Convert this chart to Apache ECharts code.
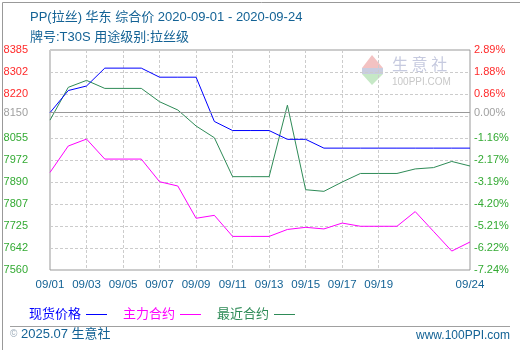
<!DOCTYPE html>
<html>
<head>
<meta charset="utf-8">
<script src="https://cdn.jsdelivr.net/npm/echarts@6/dist/echarts.min.js"></script>
<style>
  html, body { margin: 0; padding: 0; background: #fff; }
  #chart { width: 520px; height: 350px; }
</style>
</head>
<body>
<div id="chart"></div>
<script>
// Calendar days shown on the x axis
const dates = ['09/01','09/02','09/03','09/04','09/05','09/06','09/07','09/08','09/09','09/10',
               '09/11','09/12','09/13','09/14','09/15','09/16','09/17','09/18','09/19','09/20',
               '09/21','09/22','09/23','09/24'];
// Days that carry a label and a vertical grid line
const labeledDays = ['09/01','09/03','09/05','09/07','09/09','09/11','09/13','09/15','09/17','09/19','09/24'];

// Prices (yuan/ton)
const spotPrice = [8150, 8233, 8250, 8317, 8317, 8317, 8283, 8283, 8283, 8117,
                   8083, 8083, 8083, 8050, 8050, 8017, 8017, 8017, 8017, 8017,
                   8017, 8017, 8017, 8017];
const mainContract = [7926, 8025, 8051, 7976, 7976, 7976, 7891, 7875, 7754, 7765,
                      7686, 7686, 7686, 7712, 7720, 7714, 7736, 7724, 7724, 7724,
                      7779, 7705, 7631, 7665];
const nearContract = [8122, 8245, 8271, 8241, 8241, 8241, 8191, 8160, 8100, 8056,
                      7910, 7910, 7910, 8178, 7861, 7855, 7890, 7922, 7922, 7922,
                      7939, 7944, 7967, 7950];

// Value axis: ticks from bottom to top, base price line
const axisMin = 7560, axisMax = 8385, axisStep = 82.5;
const basePrice = 8150;
const leftTickLabels  = ['7560','7642','7725','7807','7890','7972','8055','','8220','8302','8385'];
const rightTickLabels = ['-7.24%','-6.22%','-5.21%','-4.20%','-3.19%','-2.17%','-1.16%','','0.86%','1.88%','2.89%'];
const baseLeftLabel = '8150', baseRightLabel = '0.00%';

const seriesNames = ['现货价格', '主力合约', '最近合约'];
const seriesColors = ['#0000ff', '#ff00ff', '#2e8b57'];

const titleLine1 = 'PP(拉丝) 华东 综合价 2020-09-01 - 2020-09-24';
const titleLine2 = '牌号:T30S 用途级别:拉丝级';

const UP = '#ff2a2a', DOWN = '#33aa33', BASE = '#a0a0a0', TEAL = '#136295';
const FONT = '"Liberation Sans", "Noto Sans CJK SC", sans-serif';

const tickIndex = v => Math.round((v - axisMin) / axisStep);
const tickColor = v => (Number(v) > basePrice ? UP : DOWN);
const showDay = (i, v) => labeledDays.indexOf(v) >= 0 || labeledDays.indexOf(dates[i]) >= 0;

const chart = echarts.init(document.getElementById('chart'), null, { renderer: 'canvas' });

const option = {
  animation: false,
  backgroundColor: '#fff',
  title: [
    { text: titleLine1, left: 25, top: 6,
      textStyle: { fontFamily: FONT, fontSize: 13, fontWeight: 'normal', color: TEAL } },
    { text: titleLine2, left: 25, top: 26,
      textStyle: { fontFamily: FONT, fontSize: 13, fontWeight: 'normal', color: TEAL } }
  ],
  grid: {
    left: 50, right: 50, top: 50, bottom: 80,
    show: true, borderColor: '#999', borderWidth: 1, backgroundColor: 'transparent'
  },
  legend: {
    left: 24, top: 303,
    align: 'right',
    icon: 'rect',
    itemWidth: 21, itemHeight: 1, itemGap: 16,
    textStyle: { fontFamily: FONT, fontSize: 13 },
    data: seriesNames.map((n, i) => ({ name: n, textStyle: { color: seriesColors[i] } }))
  },
  xAxis: {
    type: 'category',
    data: dates,
    boundaryGap: false,
    axisLine: { show: false },
    axisTick: { show: false },
    axisLabel: {
      interval: showDay,
      margin: 9,
      fontFamily: FONT, fontSize: 11.5, color: TEAL
    },
    splitLine: {
      show: true, interval: showDay,
      lineStyle: { color: '#cccccc', type: [3, 2], width: 1 }
    }
  },
  yAxis: [
    {
      type: 'value', position: 'left',
      min: axisMin, max: axisMax, interval: axisStep,
      axisLine: { show: false }, axisTick: { show: false },
      axisLabel: {
        margin: 22,
        fontFamily: FONT, fontSize: 11,
        formatter: v => leftTickLabels[tickIndex(v)],
        color: tickColor
      },
      splitLine: { show: true, lineStyle: { color: '#cccccc', type: [3, 2], width: 1 } }
    },
    {
      type: 'value', position: 'right',
      min: axisMin, max: axisMax, interval: axisStep,
      axisLine: { show: false }, axisTick: { show: false },
      axisLabel: {
        margin: 4,
        fontFamily: FONT, fontSize: 11,
        formatter: v => rightTickLabels[tickIndex(v)],
        color: tickColor
      },
      splitLine: { show: false }
    }
  ],
  series: [
    {
      name: seriesNames[0], type: 'line', data: spotPrice,
      symbol: 'none', color: seriesColors[0],
      lineStyle: { width: 1 }, z: 4,
      markLine: {
        silent: true, symbol: 'none',
        lineStyle: { color: '#999', type: 'solid', width: 1 },
        data: [
          { yAxis: basePrice,
            label: { position: 'start', distance: 22, formatter: baseLeftLabel,
                     color: BASE, fontFamily: FONT, fontSize: 11 } },
          { yAxis: basePrice,
            label: { position: 'end', distance: 4, formatter: baseRightLabel,
                     color: BASE, fontFamily: FONT, fontSize: 11 } }
        ]
      }
    },
    {
      name: seriesNames[1], type: 'line', data: mainContract,
      symbol: 'none', color: seriesColors[1],
      lineStyle: { width: 1 }, z: 3
    },
    {
      name: seriesNames[2], type: 'line', data: nearContract,
      symbol: 'none', color: seriesColors[2],
      lineStyle: { width: 1 }, z: 3
    }
  ],
  graphic: [
    // outer frame
    { type: 'rect', left: 0, top: 0, z: -1,
      shape: { x: 0.5, y: 0.5, width: 518, height: 348 },
      style: { fill: 'none', stroke: '#999', lineWidth: 1 } },
    // watermark logo
    { type: 'polygon', z: 0, silent: true,
      shape: { points: [[372, 55], [362, 68], [383, 68]] },
      style: { fill: '#f3c2c2' } },
    { type: 'rect', z: 0, silent: true,
      shape: { x: 362, y: 68, width: 21, height: 6 },
      style: { fill: '#c9cde0' } },
    { type: 'polygon', z: 0, silent: true,
      shape: { points: [[362, 74], [383, 74], [372, 85]] },
      style: { fill: '#c6e8c6' } },
    { type: 'text', z: 0, silent: true, left: 392, top: 56,
      style: { text: '生 意 社', fill: '#c6cadf', font: '16px "Noto Sans CJK SC"' } },
    { type: 'text', z: 0, silent: true, left: 392, top: 77,
      style: { text: '100PPI.COM', fill: '#c8c8c8', font: '10px "Liberation Sans"' } },
    // footer
    { type: 'line', silent: true,
      shape: { x1: 10, y1: 326.5, x2: 510, y2: 326.5 },
      style: { stroke: '#a0a0a0', lineWidth: 1 } },
    { type: 'text', silent: true, left: 10, top: 328,
      style: {
        text: '{c|©} 2025.07 生意社',
        font: '13px ' + FONT, fill: TEAL,
        rich: { c: { fill: '#9aaab8', font: '10px ' + FONT } }
      } },
    { type: 'text', silent: true, right: 10, top: 330,
      style: { text: 'www.100PPI.com', fill: TEAL, font: '12px ' + FONT } }
  ]
};

chart.setOption(option);
</script>
</body>
</html>
